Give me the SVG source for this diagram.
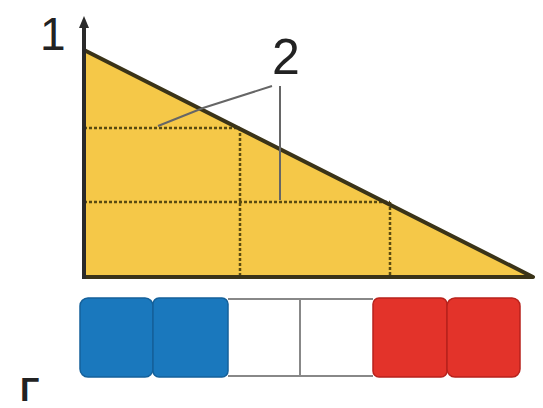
<svg xmlns="http://www.w3.org/2000/svg" width="543" height="408" viewBox="0 0 543 408">
<defs>
<style>
.lbl{font-family:"Liberation Sans",Arial,sans-serif;fill:#222;}
.dot{stroke:#5a4a10;stroke-width:2.5;stroke-dasharray:3 2;fill:none;}
.lead{stroke:#666;stroke-width:2;fill:none;}
.edge{stroke:#3a3318;stroke-width:4;fill:none;stroke-linejoin:round;}
.blue{fill:#1a78bd;stroke:#14609a;stroke-width:1.5;}
.red{fill:#e3332a;stroke:#b8221c;stroke-width:1.5;}
.white{fill:#fff;}
</style>
<marker id="ah" viewBox="0 0 12 10" refX="2" refY="5" markerWidth="12" markerHeight="10" markerUnits="userSpaceOnUse" orient="auto">
<path d="M0,0 L12,5 L0,10 Z" fill="#2a2a2a"/>
</marker>
</defs>
<rect width="543" height="408" fill="#fff"/>
<g id="chart">
<polygon points="84,50 533,277 84,277" fill="#f5c848"/>
<path class="dot" d="M84,128 H240 M84,202 H390 M240,128 V277 M390,202 V277"/>
<path class="edge" d="M84,50 L533,277 H84"/>
</g>
<g id="axis">
<line x1="84" y1="279" x2="84" y2="26" stroke="#2a2a2a" stroke-width="4" marker-end="url(#ah)"/>
<text class="lbl" x="40" y="50" font-size="46">1</text>
</g>
<g id="connectors">
<polyline class="lead" points="272,86 203,108 158,126"/>
<line class="lead" x1="280" y1="86" x2="280" y2="200"/>
</g>
<g id="label2">
<text class="lbl" x="272" y="74" font-size="50">2</text>
</g>
<g id="squares">
<path class="white" d="M228,299 H373 V376 H228 Z"/>
<path d="M228,299 H373 M228,376 H373 M300,299 V376" stroke="#888" stroke-width="2" fill="none"/>
<rect class="blue" x="80" y="298" width="73" height="79" rx="8"/>
<rect class="blue" x="153" y="298" width="75" height="79" rx="6"/>
<rect class="red" x="373" y="298" width="74" height="79" rx="6"/>
<rect class="red" x="447" y="298" width="73" height="79" rx="8"/>
</g>
<g id="letter">
<text class="lbl" x="20" y="401" font-size="34" font-weight="bold">Г</text>
</g>
</svg>
